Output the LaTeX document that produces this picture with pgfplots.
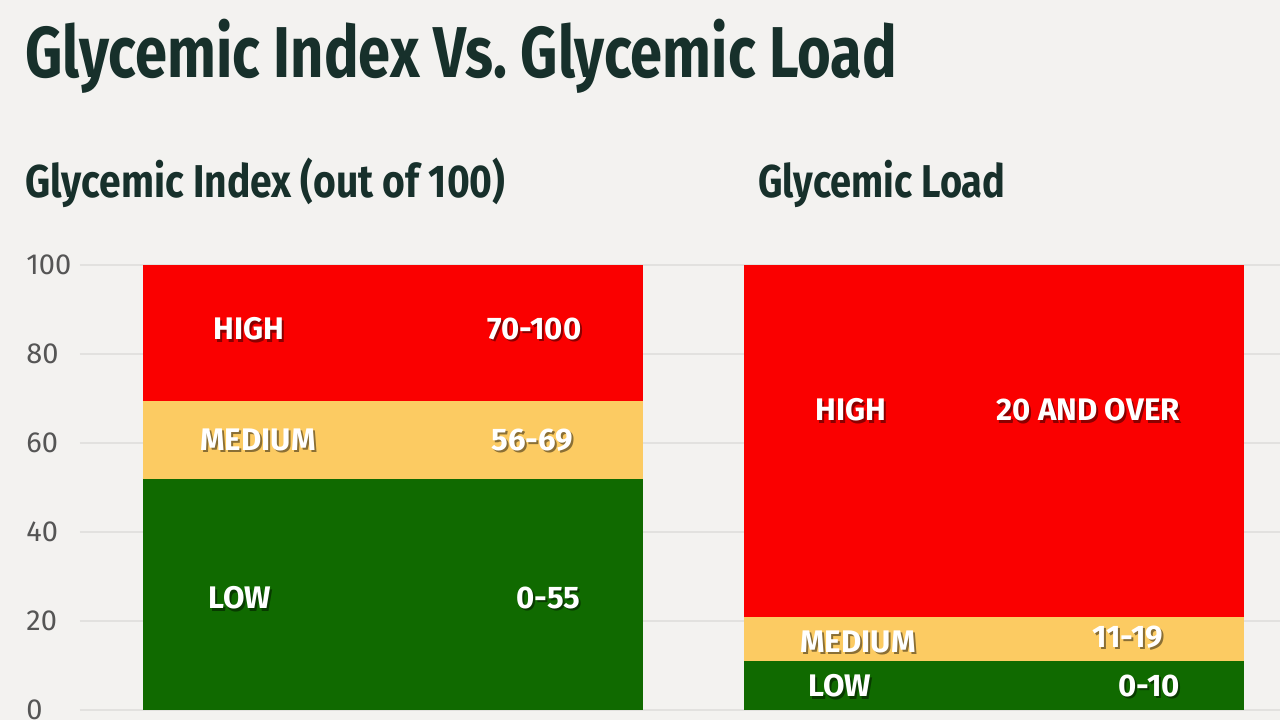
\documentclass[border=0pt]{standalone}
\usepackage{pgfplots}
\pgfplotsset{compat=1.18}
\usepackage{fontspec}
\usepackage{graphicx}
\setmainfont{Fira Sans}

\definecolor{pagebg}{HTML}{F3F2F0}
\definecolor{gired}{HTML}{FA0000}
\definecolor{giyellow}{HTML}{FCCB62}
\definecolor{gigreen}{HTML}{106A00}
\definecolor{titleink}{HTML}{17302B}
\definecolor{tickink}{HTML}{555555}
\definecolor{gridink}{HTML}{E2E1DF}

\tikzset{
  bandshadow/.style={anchor=west, inner sep=0pt, font=\bfseries\fontsize{15.6}{17}\selectfont,
                     text=black, opacity=0.45, xshift=1pt, yshift=-1.2pt},
  band/.style={anchor=west, inner sep=0pt, font=\bfseries\fontsize{15.6}{17}\selectfont, text=white},
}

\begin{document}
\begin{tikzpicture}
% 1 px of the 1280x720 reference = 0.5pt; axis box spans px 80..1280, 265..710
\fill[pagebg] (-40pt,-5pt) rectangle (600pt,355pt);

\node[anchor=base west, inner sep=0pt, text=titleink,
      font=\bfseries\fontsize{36}{40}\selectfont] at (-27.5pt,316.5pt)
  {\resizebox{436pt}{\height}{Glycemic Index Vs.\ Glycemic Load}};
\node[anchor=base west, inner sep=0pt, text=titleink,
      font=\bfseries\fontsize{23}{26}\selectfont] at (-27.5pt,256.5pt)
  {\resizebox{240pt}{\height}{Glycemic Index (out of 100)}};
\node[anchor=base west, inner sep=0pt, text=titleink,
      font=\bfseries\fontsize{23}{26}\selectfont] at (339pt,256.5pt)
  {\resizebox{123.5pt}{\height}{Glycemic Load}};

\begin{axis}[
  at={(0,0)}, anchor=south west,
  scale only axis, width=600pt, height=222.5pt,
  xmin=80, xmax=1280, ymin=0, ymax=100,
  ytick={0,20,40,60,80,100}, xtick=\empty,
  ymajorgrids, grid style={gridink, line width=1pt},
  axis line style={draw=none}, major tick length=0pt,
  yticklabel style={anchor=west, inner sep=0pt, xshift=-27pt,
                    font=\fontsize{14.5}{14.5}\selectfont, text=tickink},
  /pgf/number format/assume math mode=true,
  clip=false,
]
% glycemic index bar: low 0-52, medium 52-69.5, high 69.5-100 (as drawn)
\addplot[fill=gigreen, draw=none] coordinates {(143,0) (643,0) (643,52) (143,52)} -- cycle;
\addplot[fill=giyellow, draw=none] coordinates {(143,52) (643,52) (643,69.5) (143,69.5)} -- cycle;
\addplot[fill=gired, draw=none] coordinates {(143,69.5) (643,69.5) (643,100) (143,100)} -- cycle;
% glycemic load bar: low 0-11, medium 11-21, high 21-100 (as drawn)
\addplot[fill=gigreen, draw=none] coordinates {(744,0) (1244,0) (1244,11) (744,11)} -- cycle;
\addplot[fill=giyellow, draw=none] coordinates {(744,11) (1244,11) (1244,21) (744,21)} -- cycle;
\addplot[fill=gired, draw=none] coordinates {(744,21) (1244,21) (1244,100) (744,100)} -- cycle;

\node[bandshadow] at (axis cs:213,85.6) {HIGH};
\node[band]       at (axis cs:213,85.6) {HIGH};
\node[bandshadow] at (axis cs:487,85.6) {70-100};
\node[band]       at (axis cs:487,85.6) {70-100};
\node[bandshadow] at (axis cs:200,60.7) {MEDIUM};
\node[band]       at (axis cs:200,60.7) {MEDIUM};
\node[bandshadow] at (axis cs:491,60.7) {56-69};
\node[band]       at (axis cs:491,60.7) {56-69};
\node[bandshadow] at (axis cs:208,25.2) {LOW};
\node[band]       at (axis cs:208,25.2) {LOW};
\node[bandshadow] at (axis cs:516,25.2) {0-55};
\node[band]       at (axis cs:516,25.2) {0-55};
\node[bandshadow] at (axis cs:815,67.4) {HIGH};
\node[band]       at (axis cs:815,67.4) {HIGH};
\node[bandshadow] at (axis cs:996,67.4) {20 AND OVER};
\node[band]       at (axis cs:996,67.4) {20 AND OVER};
\node[bandshadow] at (axis cs:800,15.3) {MEDIUM};
\node[band]       at (axis cs:800,15.3) {MEDIUM};
\node[bandshadow] at (axis cs:1092,16.4) {11-19};
\node[band]       at (axis cs:1092,16.4) {11-19};
\node[bandshadow] at (axis cs:808,5.4) {LOW};
\node[band]       at (axis cs:808,5.4) {LOW};
\node[bandshadow] at (axis cs:1118,5.4) {0-10};
\node[band]       at (axis cs:1118,5.4) {0-10};
\end{axis}

\pgfresetboundingbox
\useasboundingbox (-40pt,-5pt) rectangle (600pt,355pt);
\end{tikzpicture}
\end{document}
